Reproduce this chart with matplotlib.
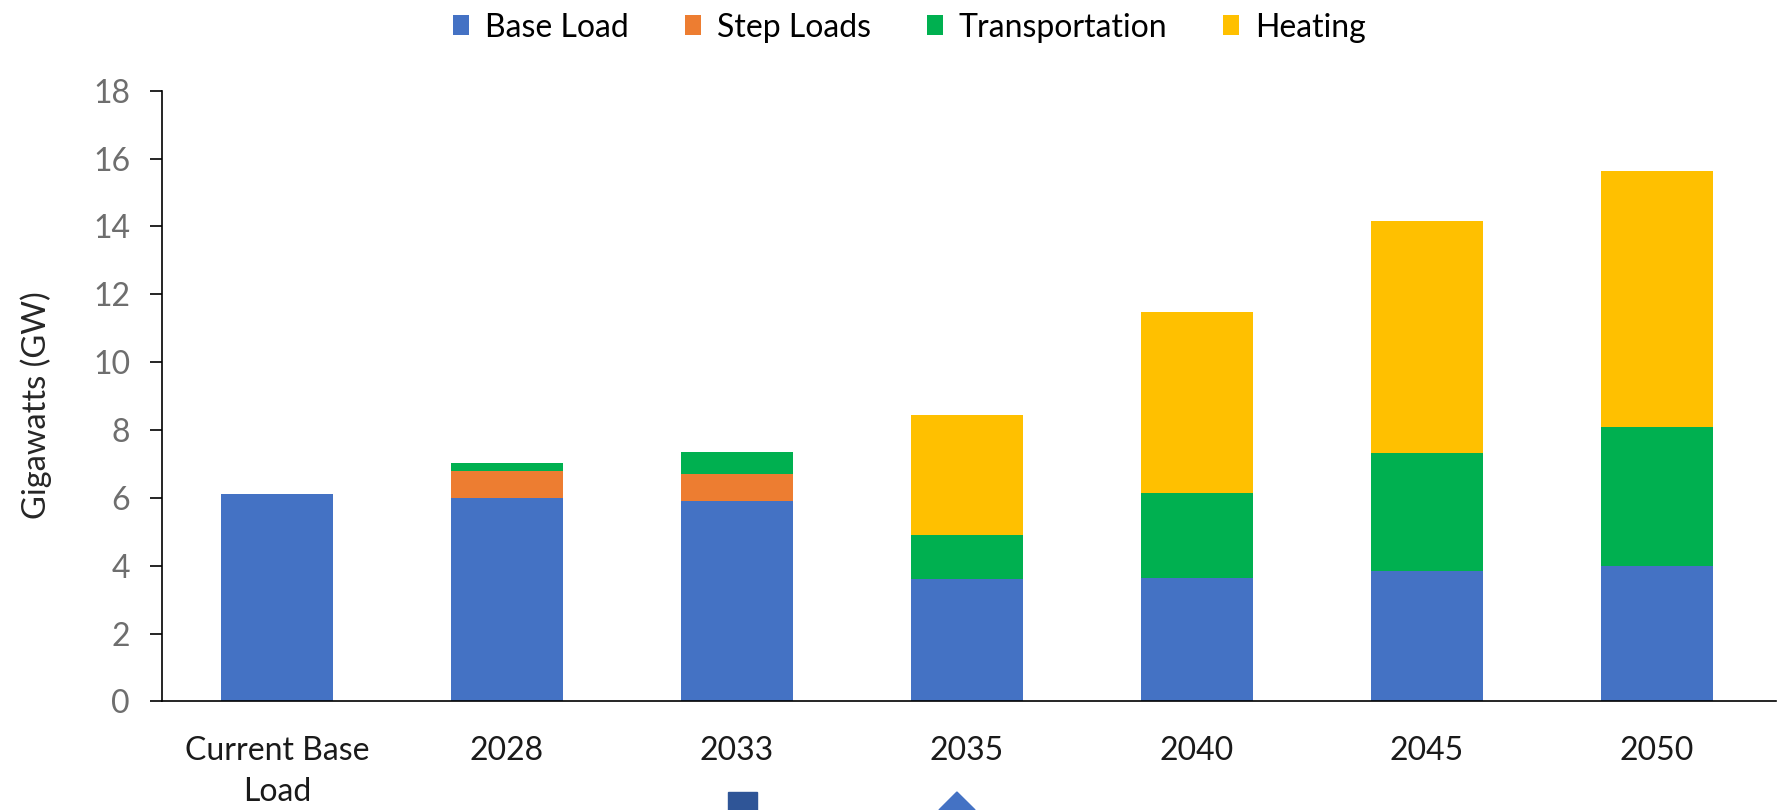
import numpy as np
import matplotlib
matplotlib.use('Agg')
from matplotlib import pyplot as plt
from matplotlib.patches import Rectangle, Polygon

plt.rcParams['font.family'] = ['Lato', 'DejaVu Sans']

#categories and stacked series (GW)
categories = ['Current Base\nLoad', '2028', '2033', '2035', '2040', '2045', '2050']
base_load = [6.1, 6.0, 5.9, 3.6, 3.65, 3.85, 3.98]
step_loads = [0, 0.78, 0.8, 0, 0, 0, 0]
transportation = [0, 0.24, 0.65, 1.3, 2.5, 3.47, 4.1]
heating = [0, 0, 0, 3.53, 5.32, 6.84, 7.55]

series = [('Base Load', base_load, '#4472C4'),
          ('Step Loads', step_loads, '#ED7D31'),
          ('Transportation', transportation, '#00B050'),
          ('Heating', heating, '#FFC000')]

fig = plt.figure(figsize=(17.8, 8.1), dpi=100)
ax = fig.add_axes([0.091, 0.134, 0.907, 0.754])

x = np.arange(len(categories))
bottom = np.zeros(len(categories))
for name, vals, col in series:
    vals = np.array(vals)
    ax.bar(x, vals, 0.49, bottom=bottom, color=col, label=name, zorder=2)
    bottom = bottom + vals

ax.set_xlim(-0.5, 6.52)
ax.set_ylim(0, 18)
ax.set_yticks(range(0, 19, 2))
ax.set_xticks(x)
ax.set_xticklabels(categories, fontsize=23, color='#1a1a1a', linespacing=1.45)
ax.tick_params(axis='x', length=0, pad=25)
ax.tick_params(axis='y', length=9, width=1.2, pad=14, labelsize=23, labelcolor='#6e6e6e')

for s in ['top', 'right']:
    ax.spines[s].set_visible(False)
ax.spines['left'].set_linewidth(1.2)
ax.spines['bottom'].set_linewidth(1.2)

ax.set_ylabel('Gigawatts (GW)', fontsize=23.5, color='#262626')
ax.yaxis.set_label_coords(-0.068, 0.486)

fig.legend(loc='center', bbox_to_anchor=(0.511, 0.966), ncol=4, frameon=False,
           fontsize=23, handlelength=0.5, handleheight=0.6, handletextpad=0.5,
           columnspacing=1.75)

#cut-off shapes at the bottom edge of the picture
fig.patches.append(Rectangle((0.409, 0.0), 0.016, 0.022, transform=fig.transFigure,
                             color='#2F5597', figure=fig))
fig.patches.append(Polygon([(0.5275, 0.0), (0.5376, 0.0222), (0.5478, 0.0)],
                           closed=True, transform=fig.transFigure,
                           color='#4472C4', figure=fig))

fig.savefig('out.png', dpi=100)
